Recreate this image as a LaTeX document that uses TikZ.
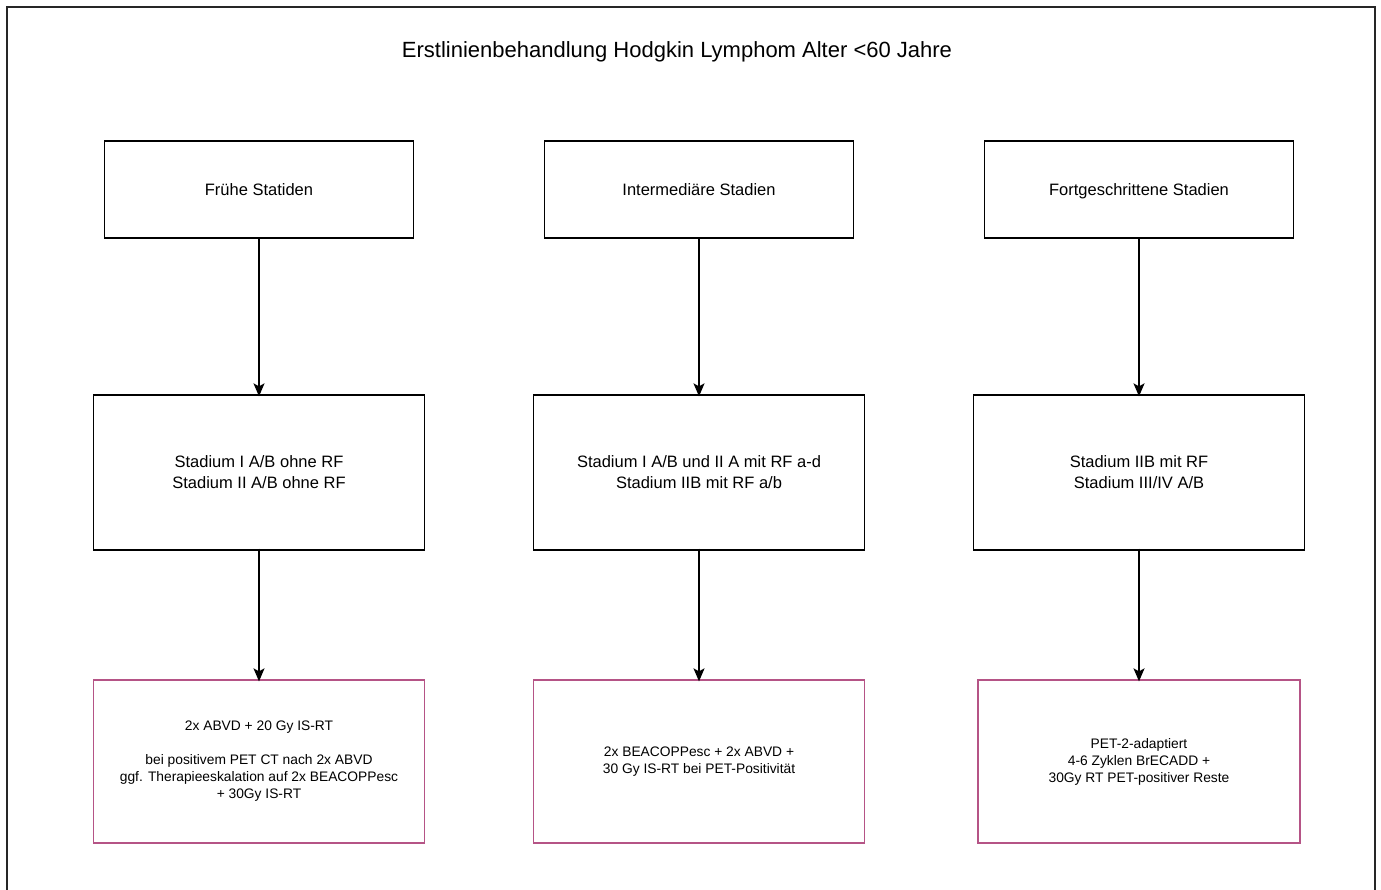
\documentclass[tikz,border=0pt]{standalone}
\usepackage{fontspec}
\setmainfont{Liberation Sans}
\usetikzlibrary{arrows.meta}
\definecolor{pinkline}{RGB}{181,84,134}
\begin{document}
\begin{tikzpicture}[x=1pt,y=-1pt,
  topbox/.style={draw=black,line width=1.3pt,minimum width=309pt,minimum height=97pt,inner sep=0pt,text height=15pt,text depth=3.5pt,font=\fontsize{16.5}{20}\selectfont,align=center},
  midbox/.style={draw=black,line width=1.3pt,minimum width=331pt,minimum height=155pt,inner sep=0pt,font=\fontsize{16.5}{21}\selectfont,align=center},
  lowbox/.style={draw=pinkline,line width=1.3pt,minimum width=331pt,minimum height=163pt,inner sep=0pt,font=\fontsize{13.8}{17}\selectfont,align=center},
  conn/.style={draw=black,line width=1.4pt,-{Stealth[length=13pt,width=11pt,inset=3pt]}}]
\useasboundingbox (0,0) rectangle (1381,889);
\coordinate (fbl) at (7,895);
\coordinate (ftl) at (7,7);
\coordinate (ftr) at (1375,7);
\coordinate (fbr) at (1375,895);
\draw[line width=2pt,black!85] (fbl) -- (ftl) -- (ftr) -- (fbr);
\node[font=\fontsize{22}{26}\selectfont] (title) at (677,52) {Erstlinienbehandlung Hodgkin Lymphom Alter <60 Jahre};

\node[topbox] (a1) at (259,189.5) {Frühe Statiden};
\node[topbox] (b1) at (699,189.5) {Intermediäre Stadien};
\node[topbox] (c1) at (1139,189.5) {Fortgeschrittene Stadien};

\node[midbox] (a2) at (259,472.5) {Stadium I A/B ohne RF\\Stadium II A/B ohne RF};
\node[midbox] (b2) at (699,472.5) {Stadium I A/B und II A mit RF a-d\\Stadium IIB mit RF a/b};
\node[midbox] (c2) at (1139,472.5) {Stadium IIB mit RF\\Stadium III/IV A/B};

\node[lowbox] (a3) at (259,761.5) {2x ABVD + 20 Gy IS-RT\\[17pt]bei positivem PET CT nach 2x ABVD\\ggf. Therapieeskalation auf 2x BEACOPPesc\\+ 30Gy IS-RT};
\node[lowbox] (b3) at (699,761.5) {2x BEACOPPesc + 2x ABVD +\\30 Gy IS-RT bei PET-Positivität};
\node[lowbox,minimum width=322pt] (c3) at (1139,761.5) {PET-2-adaptiert\\4-6 Zyklen BrECADD +\\30Gy RT PET-positiver Reste};

\draw[conn] ([yshift=1pt]a1.south) -- ([yshift=-2pt]a2.north);
\draw[conn] ([yshift=1pt]b1.south) -- ([yshift=-2pt]b2.north);
\draw[conn] ([yshift=1pt]c1.south) -- ([yshift=-2pt]c2.north);
\draw[conn] ([yshift=2pt]a2.south) -- ([yshift=-2pt]a3.north);
\draw[conn] ([yshift=2pt]b2.south) -- ([yshift=-2pt]b3.north);
\draw[conn] ([yshift=2pt]c2.south) -- ([yshift=-2pt]c3.north);
\end{tikzpicture}
\end{document}
